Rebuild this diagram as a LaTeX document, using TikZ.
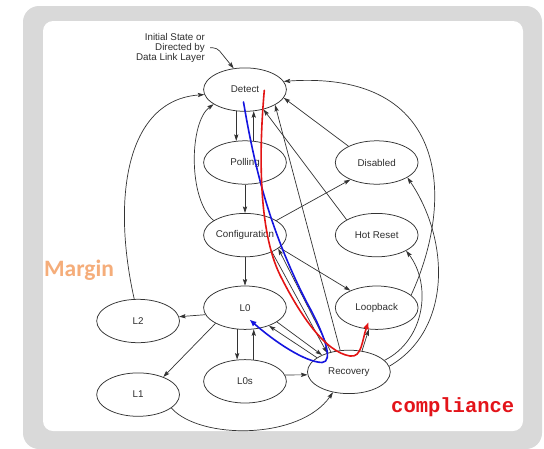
\documentclass[tikz,border=0pt]{standalone}
\usepackage{fontspec}
\setmainfont{Liberation Sans}
\newfontfamily\marginfont{Carlito}
\newfontfamily\monofont{Liberation Mono}
\usetikzlibrary{shapes.geometric,arrows.meta}
\definecolor{framegray}{HTML}{D9D9D9}
\definecolor{linegray}{HTML}{333333}
\definecolor{txtgray}{HTML}{2E2E2E}
\definecolor{marginorange}{HTML}{F5AD7A}
\definecolor{compred}{HTML}{E3141A}
\definecolor{pathblue}{HTML}{1414E0}
\definecolor{pathred}{HTML}{E31414}
\tikzset{
  state/.style={ellipse, draw=linegray, line width=0.75pt, minimum width=82.8pt,
    minimum height=43.4pt, inner sep=0pt, font=\fontsize{9.8}{10}\selectfont, text=txtgray},
  arr/.style={draw=linegray, line width=0.7pt, -{Stealth[length=6.5pt,width=4.2pt,inset=1.2pt]}},
  bluepath/.style={draw=pathblue, line width=1.6pt, line cap=round, -{Latex[length=7pt,width=6pt]}},
  redpath/.style={draw=pathred, line width=1.6pt, line cap=round, -{Latex[length=7pt,width=6pt]}}
}
\begin{document}
\begin{tikzpicture}[x=1pt,y=-1pt]
\useasboundingbox (0,0) rectangle (544,448);
\fill[white] (0,0) rectangle (544,448);
\fill[framegray, rounded corners=16pt] (23,6) rectangle (542,449);
\fill[white, rounded corners=10pt] (43,21) rectangle (523,431);

% states
\node[state] (D)  at (245,89.6)  {Detect};
\node[state] (P)  at (245,162.5) {Polling};
\node[state] (C)  at (245,235.1) {Configuration};
\node[state] (L0) at (245,307.7) {L0};
\node[state] (L0s) at (245,381.3) {L0s};
\node[state] (Di) at (376.7,162.5) {Disabled};
\node[state] (H)  at (376.7,235.1) {Hot Reset};
\node[state] (Lb) at (376.7,307.7) {Loopback};
\node[state] (R)  at (348.9,371.9) {Recovery};
\node[state] (L2) at (138.1,321)   {L2};
\node[state] (L1) at (138.1,394.6) {L1};

% initial label
\node[anchor=east, align=right, inner sep=0pt, font=\fontsize{9.8}{10}\selectfont, text=txtgray]
  (init) at (205,47.8) {Initial State or\\Directed by\\Data Link Layer};
\coordinate (initA) at (210,47.8);
\draw[arr, rounded corners=4pt] (initA) -- ++(7,0) -- (D.118);

% transitions
\draw[arr] (D.248) -- (P.112);
\draw[arr] (P.68) -- (D.292);
\draw[arr] (P.south) -- (C.north);
\draw[arr] (C.155) .. controls (188,200) and (189,122) .. (D.205);
\draw[arr] (L2.100) .. controls (112,200) and (125,100) .. (D.187);
\draw[arr] (C.south) -- (L0.north);
\draw[arr] (C.25) -- (Di.213);
\draw[arr] (C.340) -- (Lb.147);
\draw[arr] (C.328) -- (R.139);
\draw[arr] (R.132) -- (C.338);
\draw[arr] (H.153) -- (D.313);
\draw[arr] (Di.150) -- (D.348);
\draw[arr] (R.112) -- (D.333);
\draw[arr] (Lb.20) .. controls (455,200) and (450,70) .. (D.12);
\draw[arr] (R.8) .. controls (452,330) and (450,240) .. (Di.334);
\draw[arr] (R.18) .. controls (425,340) and (432,285) .. (H.332);
\draw[arr] (R.58) -- (Lb.250);
\draw[arr] (L0.336) -- (R.148);
\draw[arr] (R.156) -- (L0.323);
\draw[arr] (L0.190) -- (L2.6);
\draw[arr] (L0.208) -- (L1.35);
\draw[arr] (L0.250) -- (L0s.110);
\draw[arr] (L0s.68) -- (L0.292);
\draw[arr] (L0s.9) -- (R.184);
\draw[arr] (L1.338) .. controls (200,440) and (300,440) .. (R.232);

% highlighted paths
\coordinate (blueStart) at (243.5,102);
\coordinate (blueEnd) at (249.5,319.5);
\coordinate (redStart) at (264.3,90.3);
\coordinate (redEnd) at (368.5,322);
\draw[bluepath] (blueStart) .. controls (255,170) and (270,230) .. (306,301)
  .. controls (325,335) and (334,362) .. (322,362.5)
  .. controls (305,362) and (275,342) .. (blueEnd);
\draw[redpath] (redStart) .. controls (259,150) and (258,230) .. (280,275)
  .. controls (300,315) and (325,352) .. (350,356)
  .. controls (362,358) and (362,340) .. (redEnd);

% annotations
\node[anchor=base west, inner sep=0pt, text=marginorange, font=\marginfont\bfseries\fontsize{23.5}{25}\selectfont]
  (margin) at (44,276) {Margin};
\node[anchor=west, inner sep=0pt, text=compred, font=\monofont\bfseries\fontsize{20.5}{22}\selectfont]
  (comp) at (391,406.7) {compliance};
\end{tikzpicture}
\end{document}
